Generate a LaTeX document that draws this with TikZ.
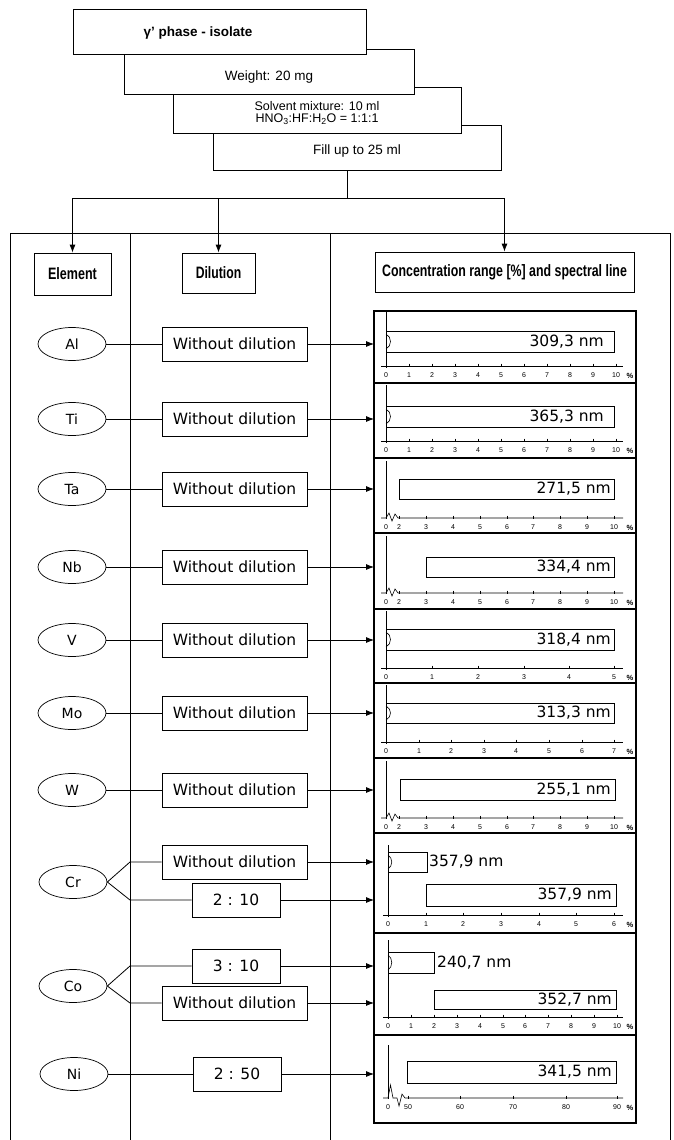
\documentclass[tikz,border=0pt]{standalone}
\usepackage{fontspec}
\usepackage{graphicx}
\setmainfont{Liberation Sans}
\newfontfamily\dv{DejaVu Sans}
\usetikzlibrary{arrows.meta,shapes.geometric}
\tikzset{
  conn/.style={line width=0.8pt},
  arr/.style={conn,-{Latex[length=8pt,width=6pt]}},
  card/.style={draw,line width=0.8pt,fill=white,anchor=north west,inner sep=0,outer sep=0},
  cardtext/.style={inner sep=0,align=center},
  hdr/.style={draw,line width=0.8pt,inner sep=0,font=\fontsize{16.5}{18}\selectfont\bfseries},
  elem/.style={draw,ellipse,line width=0.7pt,minimum width=68pt,minimum height=33pt,inner sep=0,font=\dv\fontsize{14}{16}\selectfont},
  dil/.style={draw,line width=0.7pt,minimum width=145pt,minimum height=34pt,inner sep=0,font=\dv\fontsize{15.5}{18}\selectfont},
  ratio/.style={dil,minimum width=88pt},
  panel/.style={draw,line width=1.6pt,anchor=north west,minimum width=262pt,inner sep=0,outer sep=0},
  bar/.style={line width=0.8pt},
  barlab/.style={font=\dv\fontsize{15.5}{18}\selectfont,inner sep=0},
  ticklab/.style={font=\fontsize{7}{8}\selectfont,inner sep=0},
  axisline/.style={line width=0.6pt},
}
\newcommand\tickrow[2]{%
  \foreach \xx/\lab in {#2}{\draw[axisline] (\xx,#1-2.5) -- (\xx,#1+1);
    \node[ticklab] at (\xx,#1+9.5) {\lab};}
  \node[ticklab,font=\fontsize{7.5}{8}\selectfont\bfseries] at (630,#1+9.5) {\%};}
\newcommand\peak[2]{\draw[axisline] (386,#1+3) .. controls (392,#1+6) and (392,#2-6) .. (386,#2-3);}
\begin{document}
\begin{tikzpicture}[x=1pt,y=-1pt]
\useasboundingbox (0,0) rectangle (673,1140);
% ---------- stacked preparation cards ----------
\node[card,minimum width=288pt,minimum height=45pt] (box4) at (213,125) {};
\node[card,minimum width=288pt,minimum height=46pt] (box3) at (173,87) {};
\node[card,minimum width=290pt,minimum height=45pt] (box2) at (124,49) {};
\node[card,minimum width=293pt,minimum height=45pt] (box1) at (73,9) {};
\node[cardtext,font=\fontsize{13.5}{15}\selectfont\bfseries] (t1) at (198,33) {γ' phase - isolate};
\node[cardtext,font=\fontsize{13.5}{15}\selectfont] (t2) at (269,77) {Weight: 20 mg};
\node[cardtext,font=\fontsize{12.5}{12}\selectfont] (t3) at (317,113) {Solvent mixture: 10 ml\\HNO\textsubscript{3}:HF:H\textsubscript{2}O = 1:1:1};
\node[cardtext,font=\fontsize{13.5}{15}\selectfont] (t4) at (357,151) {Fill up to 25 ml};
% ---------- table frame ----------
\draw[conn] (10,233) -- (670,233);
\foreach \cx in {10,130,330,670} \draw[conn] (\cx,233) -- (\cx,1140);
% ---------- headers ----------
\node[hdr,minimum width=77pt,minimum height=42pt] (hEl) at (72.5,274) {\scalebox{0.76}[1]{Element}};
\node[hdr,minimum width=73pt,minimum height=40pt] (hDil) at (218.5,273) {\scalebox{0.74}[1]{Dilution}};
\node[hdr,minimum width=259pt,minimum height=40pt] (hCon) at (504.5,272) {\scalebox{0.75}[1]{Concentration range [\%] and spectral line}};
\coordinate (split) at (347,198);
\draw[conn] (split |- box4.south) -- (split);
\draw[arr] (split) -| (hEl.north);
\draw[arr] (split) -| (hDil.north);
\draw[arr] (split) -| (hCon.north);
% ---------- panels ----------
\node[panel,minimum height=72pt] (pAl) at (374,311) {};
\node[panel,minimum height=75pt] (pTi) at (374,383) {};
\node[panel,minimum height=75pt] (pTa) at (374,458) {};
\node[panel,minimum height=76pt] (pNb) at (374,533) {};
\node[panel,minimum height=74pt] (pV) at (374,609) {};
\node[panel,minimum height=75pt] (pMo) at (374,683) {};
\node[panel,minimum height=75pt] (pW) at (374,758) {};
\node[panel,minimum height=100pt] (pCr) at (374,833) {};
\node[panel,minimum height=102pt] (pCo) at (374,933) {};
\node[panel,minimum height=88pt] (pNi) at (374,1035) {};
% Al
\draw[axisline] (386,312) -- (386,368);
\draw[axisline] (381,366) -- (623,366);
\tickrow{366}{386/0,409/1,432/2,455/3,478/4,501/5,524/6,547/7,570/8,593/9,616/10}
\draw[bar] (386,331) rectangle (614,352);
\peak{331}{352}
\node[barlab,anchor=east] (lAl) at (604,341.5) {309,3 nm};
% Ti
\draw[axisline] (386,385) -- (386,443);
\draw[axisline] (381,441) -- (623,441);
\tickrow{441}{386/0,409/1,432/2,455/3,478/4,501/5,524/6,547/7,570/8,593/9,616/10}
\draw[bar] (386,406) rectangle (614,427);
\peak{406}{427}
\node[barlab,anchor=east] (lTi) at (604,416.5) {365,3 nm};
% Ta
\draw[axisline] (386,461) -- (386,518);
\draw[axisline] (381,518) -- (386,518) -- (389,513) -- (392,521) -- (395,514) -- (398,518) -- (623,518);
\tickrow{518}{386/0,399/2,426/3,453/4,480/5,507/6,533/7,560/8,587/9,614/10}
\draw[bar] (399,479) rectangle (614,499);
\node[barlab,anchor=east] (lTa) at (611,489) {271,5 nm};
% Nb
\draw[axisline] (386,536) -- (386,593);
\draw[axisline] (381,593) -- (386,593) -- (389,588) -- (392,596) -- (395,589) -- (398,593) -- (623,593);
\tickrow{593}{386/0,399/2,426/3,453/4,480/5,507/6,533/7,560/8,587/9,614/10}
\draw[bar] (426,557) rectangle (614,577);
\node[barlab,anchor=east] (lNb) at (611,567) {334,4 nm};
% V
\draw[axisline] (386,611) -- (386,670);
\draw[axisline] (381,668) -- (623,668);
\tickrow{668}{386/0,432/1,478/2,524/3,569/4,614/5}
\draw[bar] (386,629) rectangle (614,650);
\peak{629}{650}
\node[barlab,anchor=east] (lV) at (611,639.5) {318,4 nm};
% Mo
\draw[axisline] (386,685) -- (386,744);
\draw[axisline] (381,742) -- (623,742);
\tickrow{742}{386/0,419/1,451/2,484/3,516/4,549/5,582/6,614/7}
\draw[bar] (386,703) rectangle (614,723);
\peak{703}{723}
\node[barlab,anchor=east] (lMo) at (611,713) {313,3 nm};
% W
\draw[axisline] (386,761) -- (386,818);
\draw[axisline] (381,818) -- (386,818) -- (389,813) -- (392,821) -- (395,814) -- (398,818) -- (623,818);
\tickrow{818}{386/0,399/2,426/3,453/4,480/5,507/6,533/7,560/8,587/9,614/10}
\draw[bar] (400,779) rectangle (615,800);
\node[barlab,anchor=east] (lW) at (611,789.5) {255,1 nm};
% Cr
\draw[axisline] (388,845) -- (388,917);
\draw[axisline] (383,915) -- (623,915);
\tickrow{915}{388/0,426/1,463/2,501/3,539/4,576/5,614/6}
\draw[bar] (388,852) rectangle (427,872);
\draw[axisline] (388,855) .. controls (393,858) and (393,866) .. (388,869);
\node[barlab,anchor=west] (lCr1) at (429,862) {357,9 nm};
\draw[bar] (426,884) rectangle (616,906);
\node[barlab,anchor=east] (lCr2) at (612,895) {357,9 nm};
% Co
\draw[axisline] (388,940) -- (388,1019);
\draw[axisline] (383,1017) -- (623,1017);
\tickrow{1017}{388/0,411/1,434/2,457/3,480/4,503/5,525/6,548/7,571/8,594/9,617/10}
\draw[bar] (388,952) rectangle (434,973);
\draw[axisline] (388,955) .. controls (393,958) and (393,967) .. (388,970);
\node[barlab,anchor=west] (lCo1) at (437,962.5) {240,7 nm};
\draw[bar] (434,990) rectangle (616,1009);
\node[barlab,anchor=east] (lCo2) at (612,999.5) {352,7 nm};
% Ni
\draw[axisline] (388,1045) -- (388,1098);
\draw[axisline] (383,1098) -- (388,1098) -- (390.5,1085) -- (393,1098) -- (397,1098) -- (399,1106) -- (402,1094) -- (405,1098) -- (623,1098);
\tickrow{1098}{388/0,408/50,460/60,513/70,566/80,617/90}
\draw[bar] (407,1061) rectangle (616,1083);
\node[barlab,anchor=east] (lNi) at (612,1072) {341,5 nm};
% ---------- elements and dilutions ----------
\node[elem] (eAl) at (72,344) {Al};
\node[dil] (dAl) at (234.5,344) {Without dilution};
\node[elem] (eTi) at (72,419) {Ti};
\node[dil] (dTi) at (234.5,419) {Without dilution};
\node[elem] (eTa) at (72,489) {Ta};
\node[dil] (dTa) at (234.5,489) {Without dilution};
\node[elem] (eNb) at (72,567) {Nb};
\node[dil] (dNb) at (234.5,567) {Without dilution};
\node[elem] (eV) at (72,640) {V};
\node[dil] (dV) at (234.5,640) {Without dilution};
\node[elem] (eMo) at (72,713) {Mo};
\node[dil] (dMo) at (234.5,713) {Without dilution};
\node[elem] (eW) at (72,790) {W};
\node[dil] (dW) at (234.5,790) {Without dilution};
\node[elem] (eCr) at (73,882) {Cr};
\node[dil] (dCr1) at (234.5,862) {Without dilution};
\node[ratio] (dCr2) at (236,900) {2 : 10};
\node[elem] (eCo) at (73,986) {Co};
\node[ratio] (dCo1) at (236,966) {3 : 10};
\node[dil] (dCo2) at (234.5,1003) {Without dilution};
\node[elem] (eNi) at (74,1074) {Ni};
\node[ratio] (dNi) at (237,1074) {2 : 50};
% single connectors
\foreach \e in {Al,Ti,Ta,Nb,V,Mo,W,Ni}{
  \draw[conn] (e\e.east) -- (d\e.west);
  \draw[arr] (d\e.east) -- (d\e.east -| p\e.west);
}
% branched connectors
\coordinate (crA) at (130,862);
\coordinate (crB) at (130,900);
\draw[conn] (eCr.east) -- (crA) -- (dCr1.west);
\draw[conn] (eCr.east) -- (crB) -- (dCr2.west);
\draw[arr] (dCr1.east) -- (dCr1.east -| pCr.west);
\draw[arr] (dCr2.east) -- (dCr2.east -| pCr.west);
\coordinate (coA) at (130,966);
\coordinate (coB) at (130,1003);
\draw[conn] (eCo.east) -- (coA) -- (dCo1.west);
\draw[conn] (eCo.east) -- (coB) -- (dCo2.west);
\draw[arr] (dCo1.east) -- (dCo1.east -| pCo.west);
\draw[arr] (dCo2.east) -- (dCo2.east -| pCo.west);
\end{tikzpicture}
\end{document}
